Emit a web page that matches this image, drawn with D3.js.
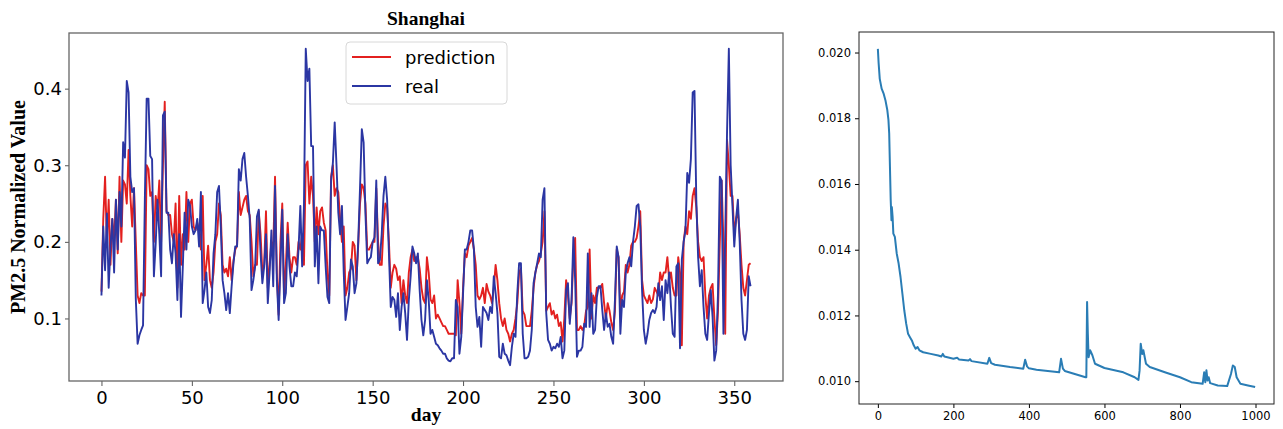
<!DOCTYPE html>
<html>
<head>
<meta charset="utf-8">
<script src="https://cdn.jsdelivr.net/npm/d3@7"></script>
<style>
  body { margin: 0; background: #fff; }
  svg { display: block; }
  .tick text { font-family: "DejaVu Sans", sans-serif; fill: #000; }
</style>
</head>
<body>
<script>
// ---- data: left panel (Shanghai PM2.5, one value per day, day = index) ----
const real = [
  0.13,0.22,0.163,0.237,0.14,0.194,0.23,0.16,0.255,0.19,
  0.265,0.22,0.33,0.31,0.41,0.395,0.285,0.265,0.27,0.125,
  0.067,0.078,0.085,0.091,0.255,0.387,0.387,0.312,0.308,0.155,
  0.198,0.255,0.21,0.155,0.365,0.37,0.238,0.238,0.19,0.172,
  0.21,0.185,0.124,0.21,0.102,0.168,0.238,0.19,0.255,0.247,
  0.22,0.21,0.215,0.23,0.194,0.265,0.12,0.137,0.16,0.115,
  0.107,0.124,0.185,0.21,0.265,0.273,0.22,0.15,0.133,0.111,
  0.133,0.107,0.142,0.172,0.194,0.194,0.295,0.28,0.308,0.316,
  0.285,0.26,0.23,0.137,0.15,0.168,0.233,0.242,0.185,0.146,
  0.168,0.21,0.12,0.16,0.215,0.142,0.273,0.15,0.098,0.168,
  0.242,0.12,0.133,0.21,0.168,0.142,0.142,0.16,0.155,0.19,
  0.247,0.168,0.247,0.452,0.41,0.426,0.325,0.325,0.168,0.22,
  0.146,0.22,0.215,0.215,0.168,0.128,0.12,0.28,0.303,0.356,
  0.3,0.238,0.21,0.247,0.16,0.098,0.115,0.133,0.177,0.168,
  0.133,0.146,0.2,0.27,0.347,0.33,0.238,0.172,0.177,0.18,
  0.2,0.206,0.28,0.172,0.177,0.21,0.26,0.285,0.255,0.185,
  0.115,0.128,0.124,0.102,0.133,0.085,0.115,0.133,0.107,0.072,
  0.124,0.155,0.194,0.185,0.172,0.185,0.137,0.098,0.078,0.098,
  0.15,0.124,0.08,0.085,0.076,0.067,0.065,0.061,0.058,0.054,
  0.054,0.048,0.045,0.044,0.048,0.048,0.124,0.115,0.054,0.076,
  0.133,0.19,0.19,0.2,0.215,0.215,0.19,0.115,0.089,0.102,
  0.063,0.115,0.111,0.107,0.098,0.115,0.107,0.155,0.133,0.107,
  0.05,0.048,0.067,0.054,0.052,0.045,0.039,0.063,0.08,0.076,
  0.133,0.172,0.172,0.08,0.048,0.048,0.05,0.058,0.085,0.146,
  0.16,0.172,0.185,0.18,0.255,0.27,0.107,0.072,0.067,0.058,
  0.063,0.061,0.067,0.063,0.076,0.048,0.058,0.137,0.146,0.093,
  0.124,0.206,0.15,0.05,0.058,0.058,0.063,0.093,0.089,0.185,
  0.089,0.133,0.08,0.085,0.128,0.142,0.142,0.111,0.085,0.107,
  0.089,0.093,0.076,0.067,0.124,0.194,0.18,0.08,0.124,0.115,
  0.16,0.172,0.18,0.168,0.2,0.22,0.247,0.249,0.22,0.137,
  0.085,0.067,0.08,0.098,0.107,0.111,0.107,0.115,0.146,0.124,
  0.142,0.098,0.15,0.133,0.16,0.115,0.08,0.076,0.168,0.172,
  0.061,0.177,0.2,0.215,0.29,0.277,0.308,0.395,0.397,0.255,
  0.18,0.142,0.163,0.115,0.08,0.072,0.107,0.137,0.102,0.045,
  0.058,0.133,0.285,0.28,0.08,0.21,0.343,0.452,0.3,0.247,
  0.194,0.23,0.255,0.2,0.124,0.08,0.072,0.085,0.155,0.142
];
const prediction = [
  0.135,0.23,0.285,0.2,0.255,0.17,0.23,0.2,0.255,0.185,
  0.285,0.2,0.28,0.275,0.25,0.32,0.26,0.22,0.27,0.2,
  0.13,0.12,0.133,0.13,0.13,0.3,0.295,0.26,0.265,0.2,
  0.26,0.24,0.28,0.2,0.3,0.383,0.24,0.235,0.235,0.21,
  0.2,0.25,0.14,0.26,0.17,0.21,0.19,0.265,0.2,0.25,
  0.255,0.22,0.215,0.225,0.215,0.19,0.26,0.15,0.17,0.195,
  0.15,0.14,0.16,0.2,0.21,0.25,0.235,0.17,0.16,0.165,
  0.155,0.18,0.15,0.175,0.19,0.195,0.265,0.235,0.245,0.255,
  0.26,0.24,0.235,0.2,0.155,0.17,0.17,0.24,0.21,0.16,
  0.17,0.24,0.14,0.17,0.2,0.19,0.285,0.16,0.105,0.2,
  0.25,0.13,0.17,0.225,0.18,0.16,0.18,0.18,0.17,0.2,
  0.19,0.21,0.17,0.3,0.305,0.25,0.285,0.26,0.2,0.245,
  0.21,0.24,0.245,0.225,0.215,0.16,0.13,0.285,0.3,0.26,
  0.27,0.265,0.23,0.2,0.22,0.13,0.14,0.16,0.165,0.2,
  0.195,0.15,0.195,0.25,0.275,0.27,0.25,0.19,0.19,0.195,
  0.2,0.2,0.27,0.2,0.17,0.17,0.22,0.25,0.245,0.2,
  0.14,0.16,0.17,0.165,0.15,0.155,0.12,0.15,0.13,0.12,
  0.16,0.18,0.19,0.175,0.18,0.18,0.165,0.14,0.125,0.12,
  0.18,0.16,0.125,0.12,0.13,0.1,0.105,0.1,0.095,0.09,
  0.09,0.085,0.08,0.08,0.08,0.08,0.078,0.15,0.12,0.08,
  0.14,0.185,0.18,0.195,0.2,0.205,0.19,0.17,0.13,0.125,
  0.13,0.14,0.12,0.145,0.135,0.13,0.12,0.14,0.17,0.15,
  0.12,0.1,0.09,0.1,0.085,0.08,0.07,0.08,0.085,0.1,
  0.12,0.16,0.165,0.11,0.105,0.09,0.09,0.09,0.11,0.14,
  0.16,0.17,0.175,0.185,0.2,0.24,0.11,0.115,0.12,0.105,
  0.11,0.1,0.105,0.09,0.095,0.07,0.1,0.15,0.13,0.1,
  0.12,0.18,0.205,0.085,0.085,0.09,0.085,0.09,0.11,0.115,
  0.19,0.1,0.13,0.12,0.14,0.14,0.14,0.145,0.12,0.1,
  0.12,0.11,0.095,0.085,0.11,0.19,0.18,0.11,0.13,0.135,
  0.17,0.16,0.17,0.195,0.2,0.2,0.205,0.22,0.24,0.15,
  0.13,0.125,0.12,0.13,0.12,0.125,0.14,0.135,0.13,0.16,
  0.15,0.16,0.16,0.18,0.15,0.16,0.14,0.13,0.13,0.18,
  0.16,0.065,0.2,0.22,0.21,0.24,0.23,0.26,0.27,0.245,
  0.2,0.18,0.175,0.18,0.13,0.1,0.13,0.14,0.145,0.1,
  0.065,0.11,0.2,0.28,0.2,0.08,0.333,0.3,0.26,0.26,
  0.21,0.23,0.24,0.21,0.17,0.14,0.13,0.15,0.17,0.172
];
const dayTicks = [0, 50, 100, 150, 200, 250, 300, 350];
const pmTicks = [0.1, 0.2, 0.3, 0.4];

// ---- data: right panel (training loss) ----
const epochs = [0,2,5,10,15,20,25,28,30,32,34,36,37,39,41,45,50,55,60,65,70,75,80,85,90,95,100,105,110,120,140,160,168,172,176,200,210,215,240,244,248,290,295,300,310,350,385,390,395,400,420,480,485,490,495,550,552,554,556,558,562,568,575,600,650,680,690,693,696,700,703,710,720,760,800,830,860,864,867,870,873,876,880,900,925,935,940,945,950,960,980,999];
const loss = [0.02011,0.01968,0.0192,0.0189,0.01876,0.01855,0.01825,0.01795,0.01754,0.01652,0.01551,0.0149,0.0153,0.015,0.01449,0.01439,0.01388,0.01358,0.01317,0.01266,0.01215,0.01175,0.01144,0.01134,0.01124,0.01109,0.01099,0.01104,0.01094,0.01088,0.01083,0.01078,0.01075,0.01083,0.01075,0.01068,0.01071,0.01066,0.01063,0.01067,0.01061,0.01053,0.01071,0.01055,0.0105,0.01043,0.01038,0.01065,0.01045,0.01039,0.01035,0.01027,0.01068,0.01038,0.01031,0.01012,0.01012,0.01241,0.01144,0.01073,0.01094,0.01079,0.01053,0.0104,0.01027,0.01012,0.01004,0.01032,0.01114,0.01083,0.01094,0.01053,0.01043,0.01027,0.01012,0.00997,0.00992,0.01027,0.00997,0.01033,0.01002,0.01012,0.00994,0.00987,0.00985,0.01022,0.01048,0.01043,0.01012,0.00992,0.00987,0.00982];
const epochTicks = [0, 200, 400, 600, 800, 1000];
const lossTicks = [0.010, 0.012, 0.014, 0.016, 0.018, 0.020];

const width = 1283, height = 429;
const svg = d3.select('body').append('svg')
  .attr('width', width).attr('height', height);
svg.append('rect').attr('width', width).attr('height', height).attr('fill', '#fff');

// matplotlib style 5% padding
const pad = ([a, b]) => [a - (b - a) * 0.05, b + (b - a) * 0.05];

// ================= left panel =================
const L = { left: 69, right: 783, top: 33, bottom: 381 };
const days = real.map((d, i) => i);
const x1 = d3.scaleLinear().domain(pad([0, real.length - 1])).range([L.left, L.right]);
const y1 = d3.scaleLinear()
  .domain(pad(d3.extent(real.concat(prediction))))
  .range([L.bottom, L.top]);

const gl = svg.append('g');
gl.append('g')
  .attr('transform', `translate(0,${L.bottom})`)
  .call(d3.axisBottom(x1).tickValues(dayTicks).tickFormat(d3.format('d')).tickSize(5).tickPadding(5))
  .call(g => g.select('.domain').remove())
  .call(g => g.selectAll('.tick line').attr('stroke', '#555'))
  .call(g => g.selectAll('.tick text').attr('font-size', 18));
gl.append('g')
  .attr('transform', `translate(${L.left},0)`)
  .call(d3.axisLeft(y1).tickValues(pmTicks).tickFormat(d3.format('.1f')).tickSize(4).tickPadding(3))
  .call(g => g.select('.domain').remove())
  .call(g => g.selectAll('.tick line').attr('stroke', '#555'))
  .call(g => g.selectAll('.tick text').attr('font-size', 18));

const line1 = (vals) => d3.line().x((d, i) => x1(days[i])).y(d => y1(d))(vals);
gl.append('path').attr('d', line1(prediction))
  .attr('fill', 'none').attr('stroke', '#e3201f').attr('stroke-width', 1.9).attr('stroke-linejoin', 'round');
gl.append('path').attr('d', line1(real))
  .attr('fill', 'none').attr('stroke', '#2b36a3').attr('stroke-width', 1.9).attr('stroke-linejoin', 'round');

gl.append('rect')
  .attr('x', L.left).attr('y', L.top).attr('width', L.right - L.left).attr('height', L.bottom - L.top)
  .attr('fill', 'none').attr('stroke', '#666').attr('stroke-width', 1.3);

// legend
const lg = gl.append('g').attr('transform', 'translate(346,42)');
lg.append('rect').attr('width', 161).attr('height', 62).attr('rx', 4)
  .attr('fill', '#fff').attr('fill-opacity', 0.8).attr('stroke', '#d8d8d8');
[['prediction', '#e3201f', 15], ['real', '#2b36a3', 44]].forEach(([name, c, yy]) => {
  lg.append('line').attr('x1', 6).attr('x2', 45).attr('y1', yy).attr('y2', yy)
    .attr('stroke', c).attr('stroke-width', 1.9);
  lg.append('text').attr('x', 59).attr('y', yy + 6.5).text(name)
    .attr('font-family', 'DejaVu Sans, sans-serif').attr('font-size', 18);
});

// titles
const serif = 'Liberation Serif, Times New Roman, serif';
gl.append('text').attr('x', (L.left + L.right) / 2).attr('y', 25).attr('text-anchor', 'middle')
  .attr('font-family', serif).attr('font-weight', 'bold').attr('font-size', 19.5).text('Shanghai');
gl.append('text').attr('x', (L.left + L.right) / 2).attr('y', 421).attr('text-anchor', 'middle')
  .attr('font-family', serif).attr('font-weight', 'bold').attr('font-size', 19.5).text('day');
gl.append('text').attr('transform', `translate(25,${(L.top + L.bottom) / 2}) rotate(-90)`)
  .attr('text-anchor', 'middle')
  .attr('font-family', serif).attr('font-weight', 'bold').attr('font-size', 20).text('PM2.5 Normalized Value');

// ================= right panel =================
const R = { left: 859, right: 1274, top: 32, bottom: 404 };
const x2 = d3.scaleLinear().domain(pad([0, 999])).range([R.left, R.right]);
const y2 = d3.scaleLinear().domain(pad(d3.extent(loss))).range([R.bottom, R.top]);

const gr = svg.append('g');
gr.append('g')
  .attr('transform', `translate(0,${R.bottom})`)
  .call(d3.axisBottom(x2).tickValues(epochTicks).tickFormat(d3.format('d')).tickSize(4).tickPadding(4))
  .call(g => g.select('.domain').remove())
  .call(g => g.selectAll('.tick text').attr('font-size', 11.5));
gr.append('g')
  .attr('transform', `translate(${R.left},0)`)
  .call(d3.axisLeft(y2).tickValues(lossTicks).tickFormat(d3.format('.3f')).tickSize(4).tickPadding(4))
  .call(g => g.select('.domain').remove())
  .call(g => g.selectAll('.tick text').attr('font-size', 11.5));

gr.append('path')
  .attr('d', d3.line().x((d, i) => x2(epochs[i])).y(d => y2(d))(loss))
  .attr('fill', 'none').attr('stroke', '#2a7db5').attr('stroke-width', 2).attr('stroke-linejoin', 'round');

gr.append('rect')
  .attr('x', R.left).attr('y', R.top).attr('width', R.right - R.left).attr('height', R.bottom - R.top)
  .attr('fill', 'none').attr('stroke', '#222').attr('stroke-width', 1);
</script>
</body>
</html>
